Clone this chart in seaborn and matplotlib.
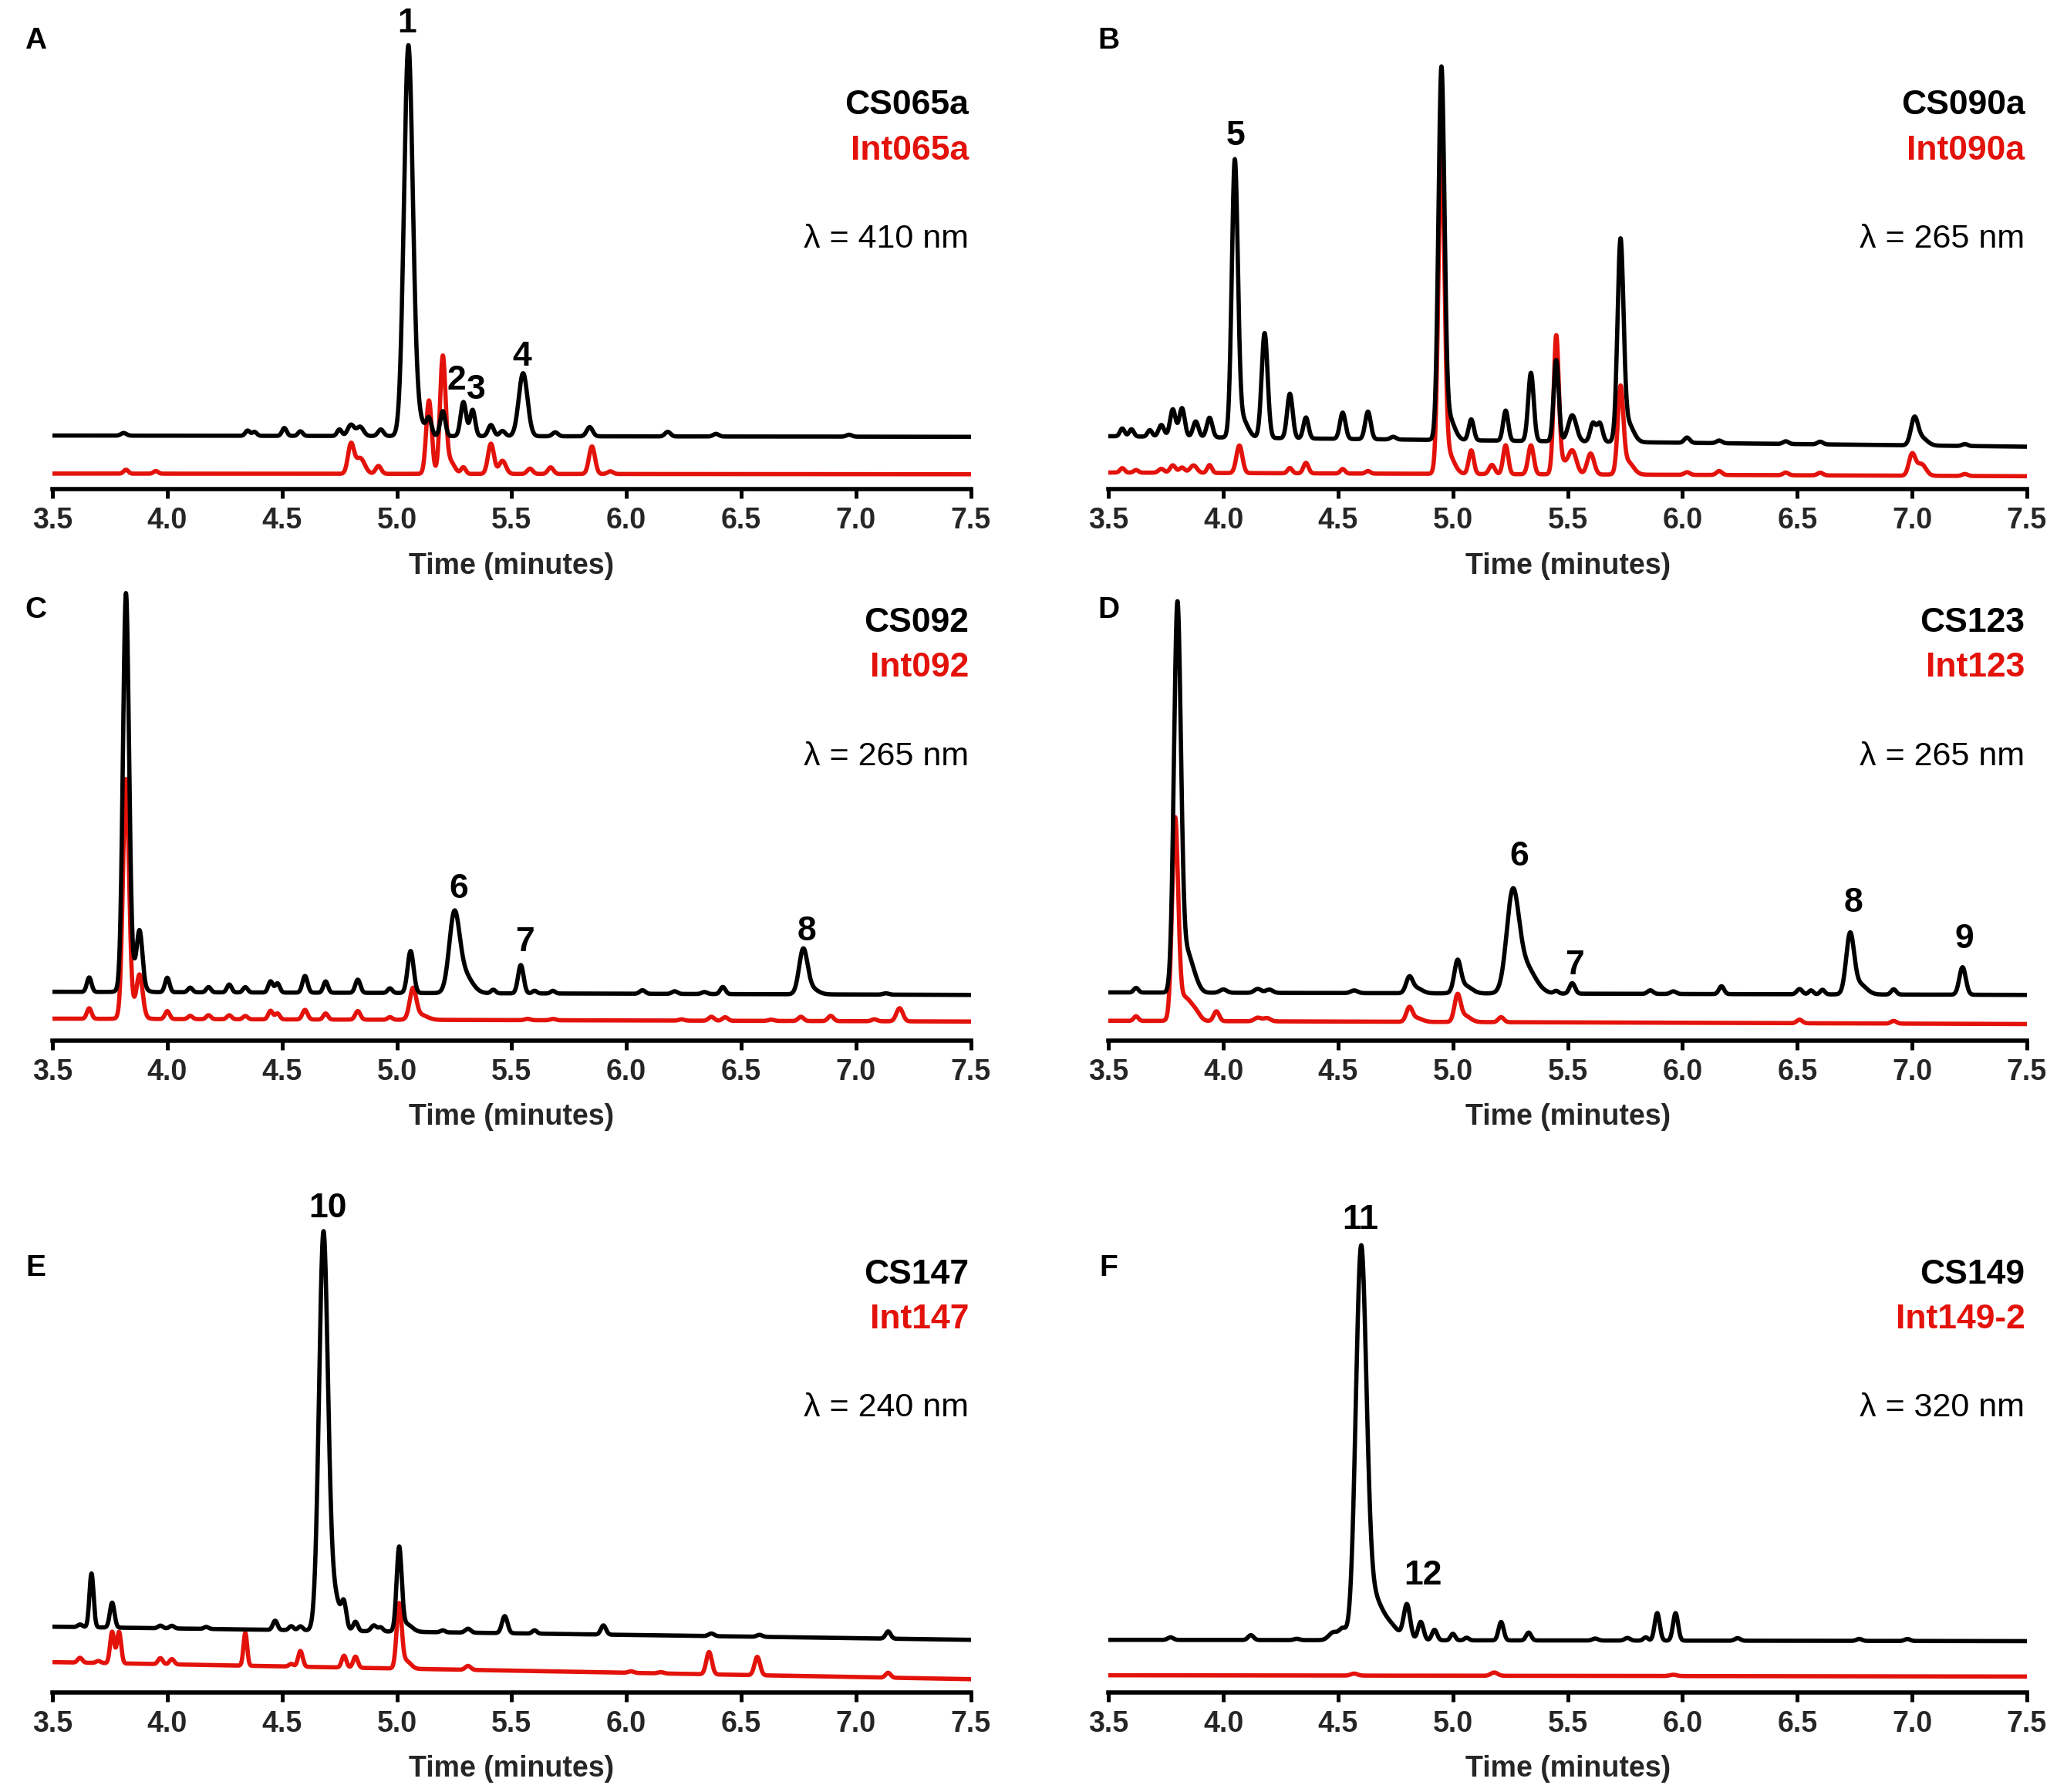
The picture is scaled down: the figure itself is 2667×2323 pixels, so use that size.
import numpy as np
import pandas as pd
import matplotlib
matplotlib.use("Agg")
import matplotlib.pyplot as plt
import seaborn as sns

sns.set_theme(style="white")
plt.rcParams['font.family'] = ['Liberation Sans', 'DejaVu Sans']

# ---------------- data (signal in arbitrary absorbance units) ----------------
x_ticks = [3.5, 4.0, 4.5, 5.0, 5.5, 6.0, 6.5, 7.0, 7.5]
x_tick_labels = ["3.5", "4.0", "4.5", "5.0", "5.5", "6.0", "6.5", "7.0", "7.5"]
panel_letters = ["A", "B", "C", "D", "E", "F"]
cs_names = ["CS065a", "CS090a", "CS092", "CS123", "CS147", "CS149"]
int_names = ["Int065a", "Int090a", "Int092", "Int123", "Int147", "Int149-2"]
wavelengths = ["λ = 410 nm", "λ = 265 nm", "λ = 265 nm", "λ = 265 nm", "λ = 240 nm", "λ = 320 nm"]

# Panel A
A_cs_base = [41, 40]
A_cs_rt = [3.81, 4.35, 4.38, 4.51, 4.58, 4.75, 4.80, 4.84, 4.93, 5.05, 5.08, 5.14, 5.20, 5.29, 5.33, 5.41, 5.46, 5.55, 5.69, 5.84, 6.18, 6.39, 6.97]
A_cs_h = [2, 4, 3, 6, 3.5, 5, 8.5, 7, 5, 287, 18, 12, 19, 26, 20, 8.5, 4, 48, 3, 7, 3.5, 2, 1.5]
A_cs_sd = [0.012, 0.01, 0.01, 0.01, 0.01, 0.01, 0.014, 0.015, 0.012, 0.019, 0.03, 0.011, 0.011, 0.012, 0.011, 0.012, 0.012, 0.019, 0.012, 0.013, 0.012, 0.012, 0.012]
A_int_base = [12, 11.5]
A_int_rt = [3.82, 3.95, 4.80, 4.84, 4.92, 5.14, 5.20, 5.23, 5.29, 5.41, 5.46, 5.58, 5.67, 5.85, 5.93]
A_int_h = [3, 2, 22, 12, 6, 56, 87, 10, 5, 23, 10, 4, 5, 21, 2]
A_int_sd = [0.01, 0.01, 0.013, 0.02, 0.012, 0.012, 0.012, 0.02, 0.01, 0.013, 0.015, 0.012, 0.012, 0.013, 0.012]

# Panel B
B_cs_base = [40.5, 32.5]
B_cs_rt = [3.56, 3.60, 3.68, 3.73, 3.78, 3.82, 3.88, 3.94, 4.05, 4.08, 4.18, 4.29, 4.36, 4.52, 4.63, 4.74, 4.95, 4.98, 5.08, 5.23, 5.34, 5.45, 5.52, 5.61, 5.64, 5.73, 5.76, 6.02, 6.16, 6.45, 6.60, 7.01, 7.04, 7.23]
B_cs_h = [6, 5.5, 5, 9, 21, 22, 12, 15, 205, 15, 80, 34, 16, 20, 21, 2, 276, 18, 16, 23, 52, 62, 20, 14, 14, 148, 15, 4, 2, 2, 2, 19, 6, 1.5]
B_cs_sd = [0.01, 0.01, 0.01, 0.012, 0.012, 0.012, 0.012, 0.012, 0.013, 0.025, 0.013, 0.012, 0.011, 0.012, 0.012, 0.012, 0.013, 0.025, 0.011, 0.011, 0.012, 0.011, 0.018, 0.012, 0.012, 0.013, 0.025, 0.012, 0.012, 0.012, 0.012, 0.015, 0.025, 0.012]
B_int_base = [12.8, 10]
B_int_rt = [3.56, 3.62, 3.73, 3.78, 3.82, 3.87, 3.94, 4.07, 4.29, 4.36, 4.52, 4.63, 4.95, 4.98, 5.08, 5.17, 5.23, 5.34, 5.45, 5.47, 5.52, 5.60, 5.73, 5.76, 6.02, 6.16, 6.45, 6.60, 7.00, 7.04, 7.23]
B_int_h = [3.4, 2, 3, 5.7, 4, 5.7, 6, 21, 4, 8, 3.4, 2, 242, 15, 18, 7, 22, 22, 100, 10, 18, 16, 63, 10, 2, 3, 2, 2, 16, 9, 1.5]
B_int_sd = [0.01, 0.01, 0.012, 0.012, 0.012, 0.015, 0.01, 0.013, 0.01, 0.011, 0.01, 0.01, 0.013, 0.025, 0.011, 0.012, 0.011, 0.012, 0.011, 0.02, 0.018, 0.015, 0.012, 0.025, 0.012, 0.012, 0.012, 0.012, 0.014, 0.02, 0.012]

# Panel C
C_cs_base = [37, 34.6]
C_cs_rt = [3.66, 3.82, 3.85, 3.88, 4.00, 4.10, 4.18, 4.27, 4.34, 4.45, 4.48, 4.60, 4.69, 4.83, 4.97, 5.06, 5.25, 5.29, 5.42, 5.54, 5.60, 5.68, 6.07, 6.21, 6.34, 6.42, 6.77, 6.80, 7.13]
C_cs_h = [11, 295, 15, 38, 11, 3.5, 4, 6, 4, 8.5, 7, 12.7, 8.6, 10, 3.5, 32, 55, 15, 2.7, 21.6, 2, 2, 2.7, 2, 1.5, 5.4, 32, 5, 1]
C_cs_sd = [0.01, 0.013, 0.03, 0.012, 0.01, 0.01, 0.01, 0.01, 0.01, 0.01, 0.01, 0.011, 0.01, 0.011, 0.01, 0.013, 0.022, 0.035, 0.01, 0.012, 0.01, 0.01, 0.012, 0.012, 0.012, 0.011, 0.018, 0.03, 0.012]
C_int_base = [16.5, 14.3]
C_int_rt = [3.66, 3.82, 3.85, 3.88, 4.00, 4.10, 4.18, 4.27, 4.34, 4.45, 4.48, 4.60, 4.69, 4.83, 4.97, 5.07, 5.10, 5.57, 5.68, 6.24, 6.37, 6.43, 6.63, 6.76, 6.89, 7.08, 7.19]
C_int_h = [8, 178, 8, 29, 6, 2.5, 3, 3, 2.5, 6.5, 4.5, 7.3, 4.6, 6.5, 2, 22, 4, 1, 1, 1, 3, 2.7, 1, 3.2, 4, 1.5, 10]
C_int_sd = [0.01, 0.013, 0.03, 0.013, 0.01, 0.01, 0.01, 0.01, 0.01, 0.01, 0.01, 0.011, 0.01, 0.011, 0.01, 0.014, 0.03, 0.012, 0.012, 0.012, 0.012, 0.012, 0.012, 0.012, 0.012, 0.012, 0.014]

# Panel D
D_cs_base = [36.5, 34.6]
D_cs_rt = [3.62, 3.80, 3.84, 3.88, 4.00, 4.15, 4.20, 4.57, 4.81, 4.84, 5.02, 5.05, 5.26, 5.31, 5.45, 5.52, 5.86, 5.96, 6.17, 6.51, 6.56, 6.61, 6.73, 6.77, 6.92, 7.22]
D_cs_h = [3.5, 290, 30, 5, 2.5, 3, 2.5, 2, 11, 4, 22, 6, 68, 22, 2, 8, 2.7, 2, 6, 4, 3, 3.5, 44, 8, 4, 21]
D_cs_sd = [0.01, 0.015, 0.025, 0.02, 0.015, 0.015, 0.015, 0.015, 0.014, 0.025, 0.014, 0.03, 0.026, 0.045, 0.01, 0.012, 0.012, 0.012, 0.011, 0.012, 0.01, 0.01, 0.017, 0.03, 0.011, 0.014]
D_int_base = [14.9, 12.4]
D_int_rt = [3.62, 3.79, 3.83, 3.88, 3.97, 4.15, 4.19, 4.81, 4.84, 5.02, 5.05, 5.21, 6.51, 6.92]
D_int_h = [3.5, 148, 18, 5, 7.5, 2.7, 2.5, 10, 3, 19, 5, 3.8, 2.7, 2]
D_int_sd = [0.01, 0.013, 0.03, 0.02, 0.012, 0.015, 0.015, 0.013, 0.025, 0.013, 0.025, 0.012, 0.012, 0.012]

# Panel E
E_cs_base = [50, 40]
E_cs_rt = [3.62, 3.67, 3.76, 3.97, 4.02, 4.17, 4.47, 4.54, 4.58, 4.68, 4.72, 4.77, 4.82, 4.90, 4.93, 5.01, 5.04, 5.20, 5.31, 5.47, 5.60, 5.90, 6.37, 6.58, 7.14]
E_cs_h = [2, 41, 19, 2, 2, 1.5, 7, 3, 3, 292, 30, 16, 7, 4.5, 3, 62, 6, 1.5, 3, 13, 2.5, 7, 2, 1.5, 5.5]
E_cs_sd = [0.01, 0.009, 0.01, 0.01, 0.01, 0.01, 0.01, 0.01, 0.01, 0.019, 0.03, 0.01, 0.01, 0.012, 0.01, 0.011, 0.025, 0.01, 0.012, 0.012, 0.01, 0.011, 0.012, 0.012, 0.011]
E_int_base = [23, 10]
E_int_rt = [3.62, 3.70, 3.76, 3.79, 3.97, 4.02, 4.34, 4.54, 4.58, 4.77, 4.82, 5.01, 5.04, 5.31, 6.02, 6.15, 6.36, 6.57, 7.14]
E_int_h = [3.7, 1.5, 24, 24, 4.6, 4, 25, 2, 12, 9, 8.5, 48, 6, 3, 1.2, 1, 17, 14, 3.7]
E_int_sd = [0.01, 0.01, 0.009, 0.009, 0.01, 0.01, 0.008, 0.01, 0.01, 0.01, 0.01, 0.011, 0.02, 0.012, 0.012, 0.012, 0.012, 0.012, 0.011]

# Panel F
F_cs_base = [40, 39]
F_cs_rt = [3.77, 4.12, 4.32, 4.48, 4.52, 4.60, 4.65, 4.72, 4.80, 4.86, 4.92, 5.00, 5.06, 5.21, 5.33, 5.62, 5.76, 5.84, 5.89, 5.97, 6.24, 6.77, 6.98]
F_cs_h = [2, 3.7, 1, 6, 8, 290, 30, 12, 26, 14, 8, 5, 2, 14, 6, 1.5, 2, 2.5, 21, 21, 2, 1.5, 1.5]
F_cs_sd = [0.012, 0.012, 0.012, 0.02, 0.015, 0.023, 0.035, 0.04, 0.014, 0.012, 0.011, 0.01, 0.01, 0.011, 0.011, 0.012, 0.012, 0.01, 0.011, 0.011, 0.012, 0.012, 0.012]
F_int_base = [13, 12]
F_int_rt = [4.57, 5.18, 5.96]
F_int_h = [1.5, 2.5, 1]
F_int_sd = [0.015, 0.015, 0.015]

# peak number annotations: (label, time, signal height)
A_labels = [("1", 5.043, 355), ("2", 5.26, 83), ("3", 5.346, 76), ("4", 5.546, 101)]
B_labels = [("5", 4.054, 269)]
C_labels = [("6", 5.27, 115), ("7", 5.557, 75), ("8", 6.786, 83)]
D_labels = [("6", 5.289, 140), ("7", 5.529, 57), ("8", 6.746, 105), ("9", 7.226, 77)]
E_labels = [("10", 4.70, 369)]
F_labels = [("11", 4.597, 360), ("12", 4.871, 89)]

# ---------------- helpers ----------------
t = np.linspace(3.5, 7.5, 4001)


def trace(base, rt, h, sd):
    y = base[0] + (base[1] - base[0]) * (t - 3.5) / 4.0
    for r, hh, s in zip(rt, h, sd):
        y = y + hh * np.exp(-0.5 * ((t - r) / s) ** 2)
    return y


panels = [
    (A_cs_base, A_cs_rt, A_cs_h, A_cs_sd, A_int_base, A_int_rt, A_int_h, A_int_sd, A_labels),
    (B_cs_base, B_cs_rt, B_cs_h, B_cs_sd, B_int_base, B_int_rt, B_int_h, B_int_sd, B_labels),
    (C_cs_base, C_cs_rt, C_cs_h, C_cs_sd, C_int_base, C_int_rt, C_int_h, C_int_sd, C_labels),
    (D_cs_base, D_cs_rt, D_cs_h, D_cs_sd, D_int_base, D_int_rt, D_int_h, D_int_sd, D_labels),
    (E_cs_base, E_cs_rt, E_cs_h, E_cs_sd, E_int_base, E_int_rt, E_int_h, E_int_sd, E_labels),
    (F_cs_base, F_cs_rt, F_cs_h, F_cs_sd, F_int_base, F_int_rt, F_int_h, F_int_sd, F_labels),
]

# ---------------- layout ----------------
W, H = 1568.0, 1366.0
cols = [(40, 740), (845, 1545)]
rows = [(0, 373), (440, 793), (895, 1290)]
legend_y = [(293, 258, 191), (318, 284, 216), (318, 284, 217)]
letter_y = [31, 465, 967]
letter_x = [27, 845]

RED = "#e3120b"
BLACK = "#000000"

fig = plt.figure(figsize=(13.335, 11.615), dpi=200)

for i, p in enumerate(panels):
    cb, crt, ch, csd, ib, irt, ih, isd, labels = p
    r, c = divmod(i, 2)
    x0, x1 = cols[c]
    top, bot = rows[r]
    ax = fig.add_axes([x0 / W, 1 - bot / H, (x1 - x0) / W, (bot - top) / H])

    df = pd.concat([
        pd.DataFrame({"time": t, "signal": trace(ib, irt, ih, isd), "sample": int_names[i]}),
        pd.DataFrame({"time": t, "signal": trace(cb, crt, ch, csd), "sample": cs_names[i]}),
    ])
    sns.lineplot(data=df, x="time", y="signal", hue="sample",
                 hue_order=[int_names[i], cs_names[i]],
                 palette={int_names[i]: RED, cs_names[i]: BLACK},
                 estimator=None, sort=False, legend=False, linewidth=2.0, ax=ax)

    ax.set_xlim(3.5, 7.5)
    ax.set_ylim(0, bot - top)
    ax.set_xticks(x_ticks)
    ax.set_xticklabels(x_tick_labels, fontweight="bold", fontsize=13.5)
    ax.set_yticks([])
    ax.set_ylabel("")
    ax.set_xlabel("Time (minutes)", fontweight="bold", fontsize=13.5, labelpad=8)
    for s in ["top", "right", "left"]:
        ax.spines[s].set_visible(False)
    ax.spines["bottom"].set_linewidth(2.0)
    ax.spines["bottom"].set_color("black")
    ax.tick_params(axis="x", direction="out", length=4.3, width=1.8, color="black", pad=4, bottom=True)
    ax.patch.set_alpha(0)

    tr = ax.get_yaxis_transform()
    ly = legend_y[r]
    ax.text(0.998, ly[0], cs_names[i], transform=tr, ha="right", va="center",
            fontsize=16, fontweight="bold", color=BLACK)
    ax.text(0.998, ly[1], int_names[i], transform=tr, ha="right", va="center",
            fontsize=16, fontweight="bold", color=RED)
    ax.text(0.998, ly[2], wavelengths[i], transform=tr, ha="right", va="center",
            fontsize=15.5, color=BLACK)

    for lab, lx, lyy in labels:
        ax.text(lx, lyy, lab, ha="center", va="center", fontsize=16,
                fontweight="bold", color=BLACK, clip_on=False)

    fig.text(letter_x[c] / W, 1 - letter_y[r] / H, panel_letters[i], ha="center", va="center",
             fontsize=14, fontweight="bold", color=BLACK)

fig.savefig("out.png", dpi=200, facecolor="white")
